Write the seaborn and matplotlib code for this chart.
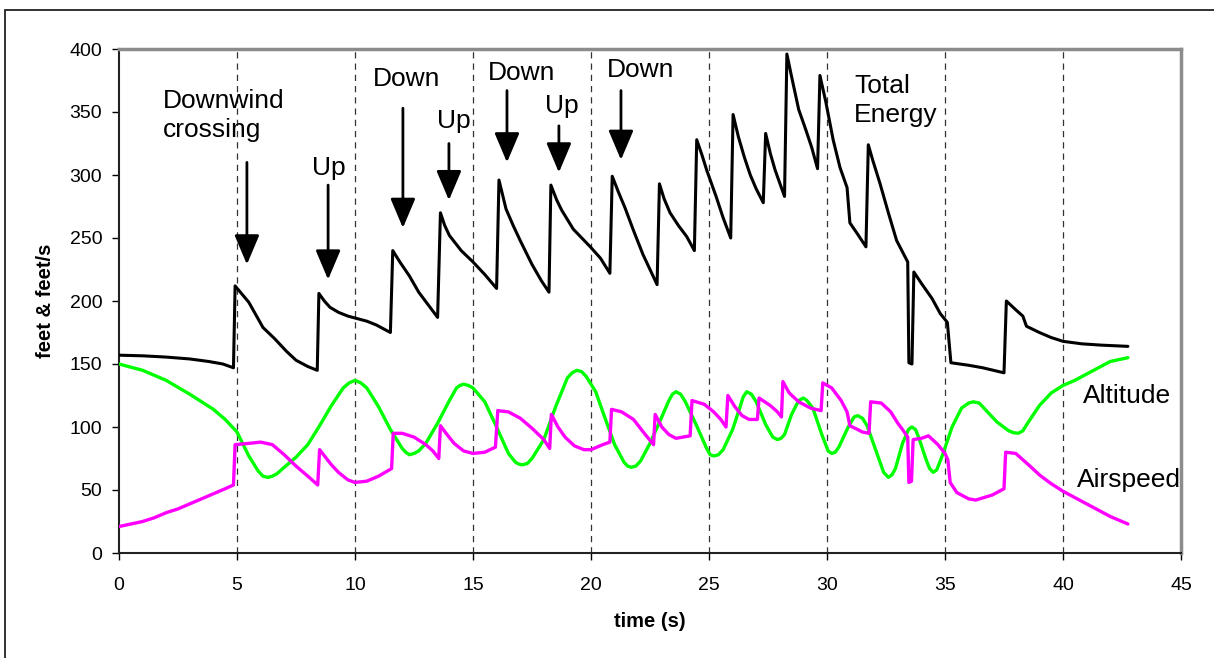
import matplotlib
matplotlib.use("Agg")
import matplotlib.pyplot as plt
import matplotlib.patches as mpatches
import numpy as np
import pandas as pd
import seaborn as sns

# ---------------- data ----------------
energy_t = [0, 1, 2, 3, 3.8, 4.4, 4.85,
            4.92, 5.5, 6.1, 6.6, 7.1, 7.5, 8.0, 8.4,
            8.47, 8.7, 8.94, 9.3, 9.7, 10.1, 10.5, 10.9, 11.2, 11.5,
            11.6, 11.9, 12.3, 12.7, 13.1, 13.5,
            13.62, 13.8, 14.0, 14.5, 15.0, 15.5, 16.0,
            16.1, 16.4, 16.7, 17.0, 17.5, 17.9, 18.22,
            18.3, 18.55, 18.76, 19.25, 19.97, 20.4, 20.8,
            20.9, 21.15, 21.44, 21.8, 22.2, 22.8,
            22.9, 23.1, 23.35, 23.7, 24.06, 24.38,
            24.48, 24.7, 24.9, 25.3, 25.6, 25.92,
            26.02, 26.25, 26.5, 26.75, 27.0, 27.3,
            27.4, 27.6, 27.8, 28.2,
            28.3, 28.5, 28.8, 29.1, 29.35, 29.6,
            29.7, 29.95, 30.26, 30.55, 30.85, 30.97, 31.3, 31.65,
            31.75, 31.95, 32.25, 32.6, 32.95, 33.42,
            33.47, 33.6, 33.68, 34.0, 34.45, 34.8, 35.1,
            35.25, 36.0, 36.6, 37.5,
            37.6, 38.0, 38.3, 38.45, 39.0, 39.5, 40.0, 40.8, 41.6, 42.75]
energy_v = [157, 156.5, 155.5, 154, 152, 150, 147,
            212, 199, 179, 170, 160, 153, 148, 145,
            206, 200, 195, 191, 188, 186, 184, 181, 178, 175,
            240, 231, 220, 207, 197, 187,
            270, 260, 252, 240, 231, 221, 210,
            296, 273, 260, 248, 229, 216, 207,
            292, 280, 272, 257, 243, 234, 222,
            299, 287, 274, 256, 237, 213,
            293, 281, 270, 260, 251, 240,
            328, 316, 304, 283, 266, 250,
            348, 330, 314, 300, 289, 278,
            333, 317, 304, 283,
            396, 378, 352, 336, 322, 305,
            379, 358, 328, 306, 290, 262, 253, 243,
            324, 311, 293, 270, 248, 231,
            151, 150, 223, 214, 202, 190, 183,
            151, 149, 147, 143,
            200, 193, 188, 180, 175, 171, 168, 166, 165, 164]

altitude_t = [0, 1, 2, 3, 4, 4.5, 5, 5.5, 5.9, 6.1, 6.3, 6.5, 6.7,
              7, 7.5, 8, 8.5, 9, 9.5, 9.75, 10, 10.25, 10.5, 11, 11.5, 12, 12.15, 12.3, 12.5,
              12.7, 13, 13.5, 14, 14.3, 14.45, 14.6, 14.8, 15, 15.5, 16, 16.5, 16.8, 16.95, 17.1, 17.3,
              17.5, 18, 18.5, 19, 19.2, 19.4, 19.6, 19.8, 20.2, 20.5, 21, 21.4, 21.55, 21.7, 21.9,
              22.1, 22.5, 23, 23.3, 23.45, 23.6, 23.8, 24, 24.5, 24.9, 25.05, 25.2, 25.4,
              25.6, 26, 26.3, 26.45, 26.6, 26.8, 27, 27.4, 27.7, 27.9, 28.05,
              28.2, 28.5, 28.8, 29.0, 29.15, 29.4, 29.8, 30.05, 30.2, 30.35,
              30.5, 30.9, 31.15, 31.3, 31.5, 31.7, 32.1, 32.4, 32.6, 32.75,
              32.9, 33.2, 33.45, 33.6, 33.75, 33.9, 34.2, 34.35, 34.5, 34.65,
              34.9, 35.3, 35.7, 36.0, 36.2, 36.45, 36.7, 37.2, 37.7, 37.9, 38.1, 38.3,
              38.5, 39, 39.5, 40, 40.5, 41, 41.5, 42, 42.75]
altitude_v = [150, 145, 137, 126, 114, 106, 96, 77, 65, 61, 60, 61, 63,
              68, 76, 86, 101, 117, 131, 135, 137, 135, 131, 116, 98, 83, 80, 78, 79,
              81, 87, 103, 121, 131, 133, 134, 133, 131, 120, 100, 79, 72, 70.5, 70, 71,
              75, 90, 116, 139, 143, 145, 144, 140, 128, 112, 86, 72, 69, 68, 69,
              73, 87, 108, 121, 126, 128, 126, 120, 100, 83, 78, 77, 78,
              82, 98, 115, 124, 128, 126, 120, 102, 92, 90, 91,
              94, 110, 121, 123, 121, 115, 93, 81, 79, 80,
              84, 100, 108, 109, 107, 101, 80, 64, 60, 62,
              67, 87, 98, 100, 98, 91, 74, 67, 64, 66,
              78, 100, 115, 119, 120, 119, 114, 104, 97, 95.5, 95, 97,
              103, 117, 127, 133, 137, 142, 147, 152, 155]

airspeed_t = [0, 0.5, 1, 1.5, 2, 2.5, 3, 3.5, 4, 4.5, 4.85,
              4.92, 5.5, 6, 6.5, 7, 7.5, 8, 8.42,
              8.5, 9, 9.3, 9.7, 10, 10.5, 11, 11.55,
              11.62, 12, 12.5, 13, 13.3, 13.55,
              13.62, 13.9, 14.2, 14.6, 15, 15.5, 15.95,
              16.05, 16.5, 17, 17.5, 18, 18.25,
              18.32, 18.6, 18.9, 19.3, 19.7, 20, 20.5, 20.8,
              20.87, 21.3, 21.8, 22.3, 22.65,
              22.72, 23.0, 23.3, 23.6, 24.2,
              24.28, 24.8, 25.2, 25.5, 25.72,
              25.8, 26.1, 26.4, 26.7, 27.05,
              27.12, 27.6, 27.9, 28.07,
              28.13, 28.4, 28.8, 29.3, 29.75,
              29.82, 30.2, 30.6, 30.85, 30.97, 31.3, 31.5, 31.78,
              31.85, 32.3, 32.7, 33.0, 33.2, 33.42,
              33.47, 33.58, 33.65, 34.0, 34.3, 34.7, 35.0, 35.12,
              35.22, 35.5, 36, 36.3, 37, 37.5,
              37.57, 38, 38.3, 38.6, 39, 39.5, 40, 40.5, 41, 41.5, 42, 42.75]
airspeed_v = [21, 23, 25, 28, 32, 35, 39, 43, 47, 51, 54,
              86, 87, 88, 86, 78, 69, 61, 54,
              82, 70, 64, 58, 56, 57, 61, 67,
              95, 95, 92, 86, 81, 75,
              101, 94, 87, 81, 79, 80, 84,
              113, 112, 107, 99, 90, 83,
              110, 100, 92, 85, 82, 82, 86, 88,
              114, 112, 106, 94, 86,
              110, 100, 94, 91, 93,
              121, 118, 112, 106, 100,
              125, 116, 109, 106, 106,
              123, 117, 112, 108,
              136, 127, 120, 115, 113,
              135, 131, 121, 112, 101, 98, 96, 95,
              120, 119, 112, 103, 98, 92,
              56, 57, 90, 91, 93, 86, 79, 74,
              56, 48, 43, 42, 46, 51,
              80, 79, 74, 69, 62, 55, 49, 44, 39, 34, 29, 23]

xticks = [0, 5, 10, 15, 20, 25, 30, 35, 40, 45]
yticks = [0, 50, 100, 150, 200, 250, 300, 350, 400]
grid_x = [5, 10, 15, 20, 25, 30, 35, 40]

# annotation labels: text, text x, baseline y of last line, arrow x, arrow top, arrow tip
arrow_labels = ["Downwind\ncrossing", "Up", "Down", "Up", "Down", "Up", "Down"]
label_x = [1.86, 8.18, 10.77, 13.48, 15.64, 18.05, 20.68]
label_y = [330, 300, 371, 337, 375, 349, 378]
arrow_x = [5.42, 8.86, 12.03, 13.98, 16.44, 18.64, 21.27]
arrow_top = [310, 292, 353, 325, 367, 339, 367]
arrow_tip = [229, 217, 258, 280, 310, 302, 312]

series_labels = ["Total\nEnergy", "Altitude", "Airspeed"]
series_label_x = [31.14, 40.85, 40.6]
series_label_y = [342, 119, 52]

# ---------------- figure ----------------
sns.set_style("white")
plt.rcParams["font.family"] = ["Liberation Sans", "DejaVu Sans"]
plt.rcParams["text.color"] = "black"
plt.rcParams["axes.labelcolor"] = "black"

fig = plt.figure(figsize=(12.14, 6.58), dpi=100)
ax = fig.add_axes([119 / 1214, 1 - 553 / 658, (1181 - 119) / 1214, (553 - 49) / 658])

# outer chart border
fig.patches.append(mpatches.Rectangle((5 / 1214, -0.1), 1.2, 1 - 10 / 658 + 0.1,
                                      transform=fig.transFigure, fill=False,
                                      edgecolor="#222222", linewidth=1.3))

for gx in grid_x:
    ax.axvline(gx, color="#333333", linestyle=(0, (5, 4)), linewidth=0.9, zorder=1)

df_e = pd.DataFrame({"t": energy_t, "v": energy_v})
df_a = pd.DataFrame({"t": altitude_t, "v": altitude_v})
df_s = pd.DataFrame({"t": airspeed_t, "v": airspeed_v})

sns.lineplot(data=df_e, x="t", y="v", ax=ax, color="black", linewidth=2.2,
             sort=False, estimator=None, zorder=3)
sns.lineplot(data=df_a, x="t", y="v", ax=ax, color="#00FF00", linewidth=2.4,
             sort=False, estimator=None, zorder=3)
sns.lineplot(data=df_s, x="t", y="v", ax=ax, color="#FF00FF", linewidth=2.4,
             sort=False, estimator=None, zorder=3)

ax.set_xlim(0, 45)
ax.set_ylim(0, 400)
ax.set_xticks(xticks)
ax.set_yticks(yticks)
ax.tick_params(axis="both", direction="out", length=5, width=1, labelsize=14,
               colors="black", left=True, bottom=True)
ax.tick_params(axis="y", pad=7)
ax.tick_params(axis="x", pad=12)
ax.set_xlabel("time (s)", fontsize=14.5, fontweight="bold", labelpad=13)
ax.set_ylabel("feet & feet/s", fontsize=14.5, fontweight="bold", labelpad=10.5)

for side in ["left", "bottom"]:
    ax.spines[side].set_color("#222222")
    ax.spines[side].set_linewidth(1.5)
for side in ["top", "right"]:
    ax.spines[side].set_visible(True)
    ax.spines[side].set_color("#8c8c8c")
    ax.spines[side].set_linewidth(2.5)

for txt, tx, ty, axx, atop, atip in zip(arrow_labels, label_x, label_y,
                                         arrow_x, arrow_top, arrow_tip):
    ax.text(tx, ty, txt, fontsize=19, ha="left", va="baseline", linespacing=1.25,
            color="black")
    ax.annotate("", xy=(axx, atip), xytext=(axx, atop),
                arrowprops=dict(arrowstyle="-|>,head_length=1.3,head_width=0.55",
                                color="black", linewidth=2.0, shrinkA=0, shrinkB=0,
                                mutation_scale=14))

for txt, tx, ty in zip(series_labels, series_label_x, series_label_y):
    ax.text(tx, ty, txt, fontsize=19, ha="left", va="baseline", linespacing=1.25,
            color="black")

fig.savefig("out.png", dpi=100, facecolor="white")
